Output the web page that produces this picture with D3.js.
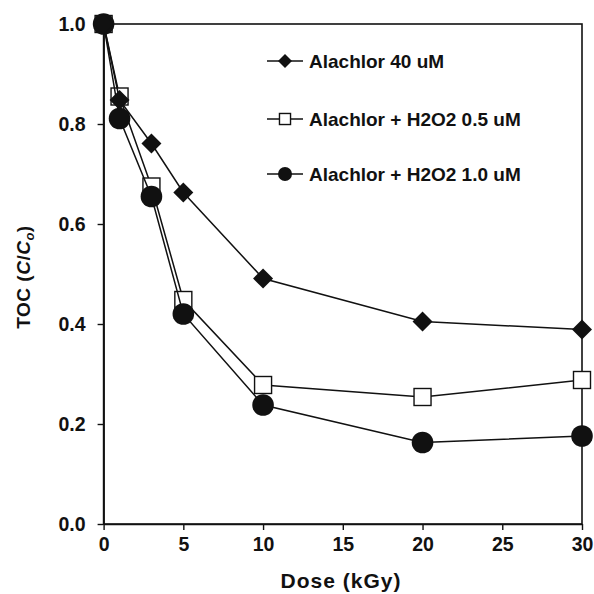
<!DOCTYPE html>
<html>
<head>
<meta charset="utf-8">
<script src="https://cdn.jsdelivr.net/npm/d3@7"></script>
<style>
  body { margin: 0; background: #fff; }
  svg text { font-family: "Liberation Sans", Arial, sans-serif; font-weight: bold; fill: #111; }
</style>
</head>
<body>
<div id="chart"></div>
<script>
// Data
const doses = [0, 1, 3, 5, 10, 20, 30];
const alachlor = [1.0, 0.848, 0.761, 0.663, 0.491, 0.405, 0.389];
const h2o2Low = [1.0, 0.855, 0.675, 0.448, 0.278, 0.254, 0.288];
const h2o2High = [1.0, 0.811, 0.655, 0.42, 0.238, 0.163, 0.176];
const seriesNames = ["Alachlor 40 uM", "Alachlor + H2O2 0.5 uM", "Alachlor + H2O2 1.0 uM"];
const xTicks = [0, 5, 10, 15, 20, 25, 30];
const yTicks = [0.0, 0.2, 0.4, 0.6, 0.8, 1.0];

const drawChart = () => {

  /*******************************/
  /*    Declare the constants    */
  /*******************************/
  const width = 594;
  const height = 594;
  const margin = {top: 24, right: 12, bottom: 70, left: 103.6};
  const innerWidth = width - margin.left - margin.right;
  const innerHeight = height - margin.top - margin.bottom;

  const svg = d3.select("#chart")
    .append("svg")
      .attr("width", width)
      .attr("height", height);

  const innerChart = svg
    .append("g")
      .attr("transform", `translate(${margin.left}, ${margin.top})`);

  /****************************/
  /*    Declare the scales    */
  /****************************/
  const xScale = d3.scaleLinear()
    .domain([0, 30])
    .range([0, innerWidth]);

  const yScale = d3.scaleLinear()
    .domain([0, 1])
    .range([innerHeight, 0]);

  /**************************/
  /*      Add the axes      */
  /**************************/
  // frame (top and right are plain lines)
  innerChart
    .append("rect")
      .attr("width", innerWidth)
      .attr("height", innerHeight)
      .attr("fill", "none")
      .attr("stroke", "#111")
      .attr("stroke-width", 1.6);

  const bottomAxis = d3.axisBottom(xScale)
    .tickValues(xTicks)
    .tickSize(6)
    .tickSizeOuter(0)
    .tickPadding(7);
  const xAxis = innerChart
    .append("g")
      .attr("transform", `translate(0, ${innerHeight})`)
      .call(bottomAxis);

  const leftAxis = d3.axisLeft(yScale)
    .tickValues(yTicks)
    .tickFormat(d3.format(".1f"))
    .tickSize(6)
    .tickSizeOuter(0)
    .tickPadding(12);
  const yAxis = innerChart
    .append("g")
      .call(leftAxis);

  [xAxis, yAxis].forEach(ax => {
    ax.select(".domain").attr("stroke", "#111").attr("stroke-width", 1.6);
    ax.selectAll(".tick line").attr("stroke", "#111").attr("stroke-width", 1.4);
    ax.selectAll(".tick text")
      .attr("font-size", 19.5)
      .attr("font-family", null)
      .style("fill", "#111");
  });

  svg
    .append("text")
      .attr("x", 341)
      .attr("y", 588)
      .attr("text-anchor", "middle")
      .attr("font-size", 21)
      .attr("letter-spacing", 1)
      .text("Dose (kGy)");

  const yLabel = svg
    .append("text")
      .attr("transform", `translate(30, 277) rotate(-90)`)
      .attr("text-anchor", "middle")
      .attr("font-size", 19)
      .attr("letter-spacing", 0.5);
  yLabel.append("tspan").text("TOC (");
  yLabel.append("tspan").attr("font-style", "italic").text("C");
  yLabel.append("tspan").text("/");
  yLabel.append("tspan").attr("font-style", "italic").text("C");
  yLabel.append("tspan").attr("font-size", 13).attr("dy", 4).attr("font-style", "italic").text("o");
  yLabel.append("tspan").attr("dy", -4).text(")");

  /**************************/
  /*    Lines and markers   */
  /**************************/
  const series = [
    {name: seriesNames[0], values: alachlor, shape: "diamond"},
    {name: seriesNames[1], values: h2o2Low, shape: "square"},
    {name: seriesNames[2], values: h2o2High, shape: "circle"},
  ];

  const line = d3.line()
    .x((d, i) => xScale(doses[i]))
    .y(d => yScale(d));

  const drawMarker = (g, shape, cx, cy, s) => {
    if (shape === "diamond") {
      g.append("path")
        .attr("d", `M${cx},${cy - s}L${cx + s},${cy}L${cx},${cy + s}L${cx - s},${cy}Z`)
        .attr("fill", "#111");
    } else if (shape === "square") {
      g.append("rect")
        .attr("x", cx - s * 0.85)
        .attr("y", cy - s * 0.85)
        .attr("width", s * 1.7)
        .attr("height", s * 1.7)
        .attr("fill", "#fff")
        .attr("stroke", "#111")
        .attr("stroke-width", 1.4);
    } else {
      g.append("circle")
        .attr("cx", cx)
        .attr("cy", cy)
        .attr("r", s * 1.08)
        .attr("fill", "#111");
    }
  };

  // squares under, then circles, diamonds on top
  [series[1], series[2], series[0]].forEach(s => {
    const g = innerChart.append("g");
    g.append("path")
      .attr("d", line(s.values))
      .attr("fill", "none")
      .attr("stroke", "#111")
      .attr("stroke-width", 1.5);
    s.values.forEach((v, i) => drawMarker(g, s.shape, xScale(doses[i]), yScale(v), 10));
  });

  /**************************/
  /*       The legend       */
  /**************************/
  const legendY = [61, 119, 174];
  series.forEach((s, i) => {
    const g = svg.append("g").attr("transform", `translate(267, ${legendY[i]})`);
    g.append("line")
      .attr("x1", 0)
      .attr("x2", 36)
      .attr("stroke", "#111")
      .attr("stroke-width", 1.5);
    drawMarker(g, s.shape, 18, 0, s.shape === "diamond" ? 7 : 6.5);
    g.append("text")
      .attr("x", 42)
      .attr("y", 7)
      .attr("font-size", 19)
      .text(s.name);
  });
};

drawChart();
</script>
</body>
</html>
